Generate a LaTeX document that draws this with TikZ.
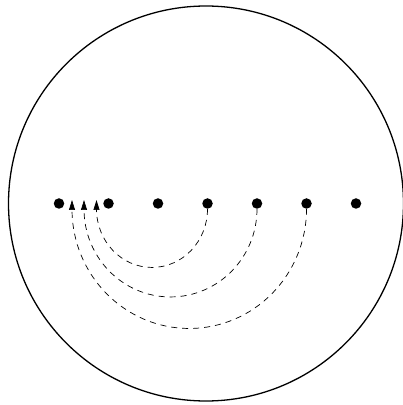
\documentclass[tikz,border=0pt]{standalone}
\usetikzlibrary{arrows.meta}
\begin{document}
\begin{tikzpicture}[x=1pt,y=1pt,
  dotnode/.style={circle,fill=black,inner sep=0pt,minimum size=10.5pt},
  conn/.style={line width=0.7pt,dash pattern=on 6pt off 5pt,-{Triangle[width=6pt,length=10pt]}},
  rim/.style={line width=1.3pt}]
\useasboundingbox (0,0) rectangle (403,405);
\draw[rim] (206,201.5) circle[radius=197.5];
\foreach \i/\x in {1/59,2/108.5,3/158,4/207.5,5/257,6/306.5,7/356}
  \node[dotnode] (d\i) at (\x,201.5) {};
\coordinate (t1) at (72,205);
\coordinate (t2) at (84,205);
\coordinate (t3) at (96.5,205);
\draw[conn] (d4.south) arc[start angle=0,end angle=-180,x radius=55.5,y radius=58.5] -- (t3);
\draw[conn] (d5.south) arc[start angle=0,end angle=-180,x radius=86.5,y radius=88] -- (t2);
\draw[conn] (d6.south) arc[start angle=0,end angle=-180,x radius=117.25,y radius=119.5] -- (t1);
\end{tikzpicture}
\end{document}
